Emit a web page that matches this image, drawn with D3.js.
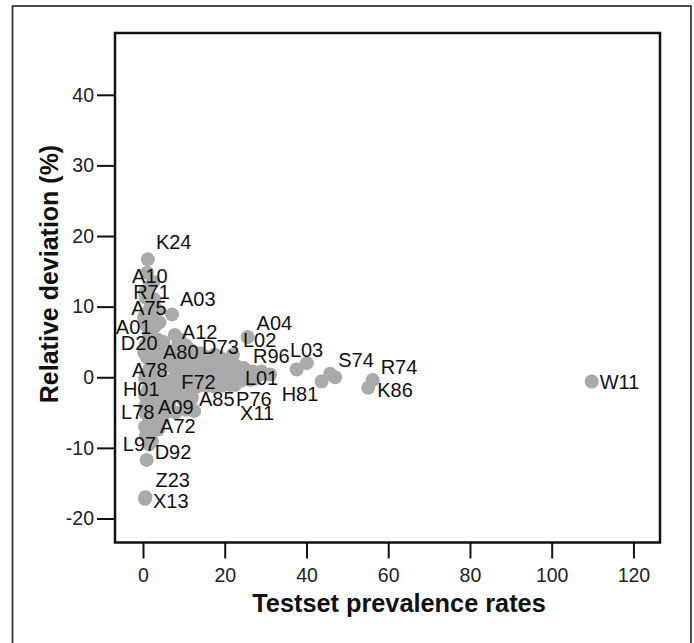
<!DOCTYPE html>
<html>
<head>
<meta charset="utf-8">
<script src="https://cdn.jsdelivr.net/npm/d3@7"></script>
<style>
body{margin:0;background:#fff}
svg{display:block;font-family:"Liberation Sans",Arial,sans-serif}
</style>
</head>
<body>
<svg width="694" height="643"></svg>
<script>
// ===== DATA =====
const codes = ["K24","A10","R71","A75","A03","A01","D20","A12","A80","D73","L02","A04","R96","L03","S74","R74","K86","W11","A78","H01","F72","L01","A85","P76","X11","H81","L78","A09","A72","L97","D92","Z23","X13"]
const prevalence = [1.2,1.0,1.5,2.0,7.1,0.7,0.7,7.8,6.6,15.2,22.0,25.6,24.7,40.1,45.8,56.2,55.1,109.8,1.7,1.2,11.3,28.6,15.4,21.3,26.2,37.6,0.5,6.1,3.7,0.7,0.9,0.6,0.5]
const deviation = [16.7,14.8,12.8,10.3,8.9,7.4,4.6,6.0,3.6,2.9,3.2,5.7,1.3,2.0,0.5,-0.4,-1.5,-0.6,1.3,-1.8,-0.9,0.4,-1.2,-1.1,-0.4,1.1,-5.0,-4.3,-7.4,-8.3,-11.7,-17.0,-17.2]

// unlabeled points of the dense cluster
const otherPrev = [0.7,1.2,2.2,2.9,1.5,3.7,2.4,4.4,1.0,3.2,5.4,4.2,0.5,2.9,5.4,3.7,1.0,2.7,2.2,4.2,1.2,3.2,2.2,4.6,
  2.5,0.5,2.8,3.5,0.3,4.0,2.0,5.0,0.3,3.0,6.0,2.5,0.8,4.5,6.5,2.5,0.5,4.5,2.0,0.5,3.5,1.5,3.0,0.5,2.0,1.5,
  8.6,9.8,11.5,13.2,16.9,18.8,20.8,22.8,26.7,6.1,8.1,10.3,12.2,14.2,16.2,18.1,20.1,22.0,24.0,7.1,9.3,13.2,17.4,19.3,
  9.8,11.5,12.5,8.1,9.1,31.1,29.0,43.7,47.0,
  7.5,9.0,11.0,12.5,15.0,17.0,19.5,21.5,23.5,25.5,27.5,8.0,10.0,12.0,14.0,16.0,18.0,20.0,22.5,7.0,10.5,12.0,
  6.5,10.5,8.0,5.5,12.5,10.5,14.0,17.5]
const otherDev = [11.3,9.3,8.2,7.2,6.0,5.3,3.9,3.6,2.8,2.2,2.5,0.8,-0.1,-0.4,-0.9,-2.3,-3.5,-4.0,-5.7,-5.5,-6.9,-7.2,-9.1,-6.0,
  13.5,12.0,11.0,9.5,8.5,7.8,5.0,5.0,3.5,3.0,3.0,1.0,0.5,-0.2,-0.5,-1.5,-2.5,-3.0,-3.0,-4.2,-4.8,-6.0,-6.3,-7.0,-7.8,-9.5,
  4.6,3.0,3.9,2.5,2.2,2.8,2.1,1.6,0.8,1.6,0.8,1.3,0.4,0.8,-0.1,0.5,-0.4,0.1,-0.5,-0.9,-1.5,-1.3,-1.3,-1.2,
  -3.2,-3.9,-4.8,-2.6,5.3,0.4,0.8,-0.6,0.0,
  2.5,2.0,2.2,1.5,1.5,1.2,1.4,1.0,0.5,0.0,-0.2,-0.5,-0.3,-1.0,-0.6,-1.0,-0.8,-1.0,-1.1,-2.0,-2.2,-2.8,
  -3.5,-4.6,-5.0,-5.0,3.5,4.5,3.4,3.2]

const xTicks = [0,20,40,60,80,100,120]
const yTicks = [-20,-10,0,10,20,30,40]

// label placement (pixels from the point: left edge, vertical centre)
const labelNudge = {
  K24:[8,-17], A10:[-15,3], R71:[-16,5], A75:[-20,3], A03:[8,-15], A01:[-30,2],
  D20:[-25,-2], A12:[7,-3], A80:[-7,0], D73:[-3,-10], L02:[10,-15], A04:[9,-14],
  R96:[9,-12], L03:[-17,-13], S74:[8,-14], R74:[8,-13], K86:[9,2], W11:[8,1],
  A78:[-18,2], H01:[-25,-1], F72:[-8,-2], L01:[-15,4], A85:[-7,13], P76:[6,14],
  X11:[-10,33], H81:[-15,25], L78:[-24,-1], A09:[-10,-1], A72:[2,-4], L97:[-23,8],
  D92:[8,-8], Z23:[10,-17], X13:[8,2]
}

// ===== CHART =====
const svg = d3.select("svg")

const plotL = 115, plotR = 660, plotT = 33, plotB = 542.5

const x = d3.scaleLinear().domain([-6.85,126.5]).range([plotL,plotR])
const y = d3.scaleLinear().domain([-23.4,48.75]).range([plotB,plotT])

// outer border
svg.append("rect")
.attr("x",12.5).attr("y",6)
.attr("width",678.5).attr("height",660)
.attr("fill","none")
.attr("stroke","#3a3a3a")
.attr("stroke-width",1.8)

// POINTS
const pts = codes.map((c,i)=>({code:c,x:prevalence[i],y:deviation[i]}))
const others = otherPrev.map((v,i)=>({x:v,y:otherDev[i]}))

svg.append("g")
.selectAll("circle")
.data(others.concat(pts))
.enter()
.append("circle")
.attr("cx",d=>x(d.x))
.attr("cy",d=>y(d.y))
.attr("r",7)
.attr("fill","#aaaaaa")

// LABELS
svg.append("g")
.selectAll("text")
.data(pts)
.enter()
.append("text")
.attr("x",d=>x(d.x)+labelNudge[d.code][0])
.attr("y",d=>y(d.y)+labelNudge[d.code][1])
.attr("dominant-baseline","central")
.attr("font-size",20)
.attr("fill","#111")
.text(d=>d.code)

// FRAME
svg.append("rect")
.attr("x",plotL).attr("y",plotT)
.attr("width",plotR-plotL).attr("height",plotB-plotT)
.attr("fill","none")
.attr("stroke","#111")
.attr("stroke-width",2.5)

// AXES
const yAxis = svg.append("g")
.attr("transform",`translate(${plotL},0)`)
.call(d3.axisLeft(y).tickValues(yTicks).tickSize(18).tickPadding(3).tickFormat(d=>String(d)))

const xAxis = svg.append("g")
.attr("transform",`translate(0,${plotB})`)
.call(d3.axisBottom(x).tickValues(xTicks).tickSize(16).tickPadding(10).tickFormat(d=>String(d)))

;[xAxis,yAxis].forEach(a=>{
  a.select(".domain").remove()
  a.selectAll("line").attr("stroke","#111").attr("stroke-width",2)
  a.selectAll("text")
  .attr("font-size",19.5)
  .attr("font-family","Liberation Sans, Arial, sans-serif")
  .attr("fill","#222")
})

// TITLES
svg.append("text")
.attr("x",399).attr("y",612)
.attr("text-anchor","middle")
.attr("font-size",25.3)
.attr("font-weight","bold")
.attr("fill","#111")
.text("Testset prevalence rates")

svg.append("text")
.attr("transform","translate(58,274) rotate(-90)")
.attr("text-anchor","middle")
.attr("font-size",25)
.attr("font-weight","bold")
.attr("fill","#111")
.text("Relative deviation (%)")
</script>
</body>
</html>
